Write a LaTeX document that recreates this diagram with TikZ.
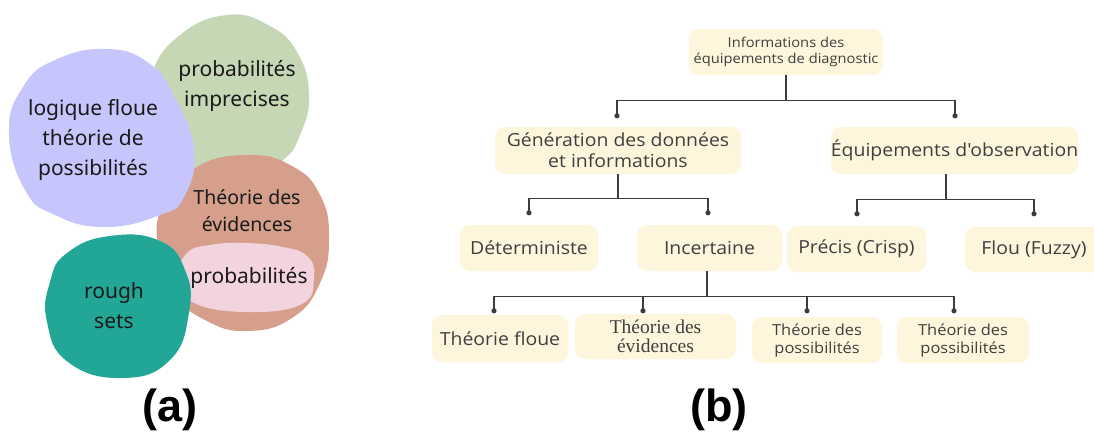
\documentclass[tikz,border=0pt]{standalone}
\usepackage{fontspec}
\setmainfont{Noto Sans}
\newfontfamily\bfont[FakeStretch=1.08]{Open Sans}
\newfontfamily\sfont{Liberation Serif}
\newfontfamily\labfont{Liberation Sans}
\usetikzlibrary{calc}
\definecolor{cpurple}{HTML}{C7C6FC}
\definecolor{cgreen}{HTML}{C6D7B5}
\definecolor{cred}{HTML}{D59F8B}
\definecolor{cpink}{HTML}{F3D3DE}
\definecolor{cteal}{HTML}{22A796}
\definecolor{cream}{HTML}{FDF6DC}
\definecolor{boxtext}{HTML}{3F3F3F}
\definecolor{btext}{HTML}{1A1A1A}
\definecolor{linec}{HTML}{3C3C3C}
\begin{document}
\begin{tikzpicture}[x=1pt,y=-1pt,
  box/.style={fill=cream, rounded corners=10pt, inner sep=0pt, align=center, text=boxtext,
    font=\bfont\fontsize{18}{21}\selectfont},
  smallbox/.style={box, font=\bfont\fontsize{15.2}{18}\selectfont},
  conn/.style={draw=linec, line width=1.4pt},
  blobtext/.style={align=center, text=btext, inner sep=0pt, font=\fontsize{21}{30}\selectfont},
  lab/.style={anchor=base, text=black, font=\labfont\bfseries\fontsize{45}{50}\selectfont}]
\clip (0,0) rectangle (1094,432);
\fill[white] (0,0) rectangle (1094,432);

% ---------- (a) blobs ----------
\fill[cgreen] plot[smooth cycle, tension=0.8] coordinates {(227,15) (268,25) (297,52) (309,95) (300,135) (283,160) (250,178) (210,175) (175,155) (155,120) (152,75) (180,35)};
\fill[cred] plot[smooth cycle, tension=0.8] coordinates {(247,155) (292,166) (320,195) (329,238) (320,283) (292,318) (247,331) (205,320) (172,292) (158,248) (163,205) (195,168)};
\fill[cpink] plot[smooth cycle, tension=0.75] coordinates {(187,253) (210,245) (245,243) (283,247) (307,256) (314,276) (302,304) (245,312) (192,302) (178,278)};
\fill[cpurple] plot[smooth cycle, tension=0.8] coordinates {(9,133) (23,87) (55,60) (108,49) (150,64) (174,96) (194,150) (184,197) (160,215) (105,227) (55,215) (25,190)};
\fill[cteal] plot[smooth cycle, tension=0.8] coordinates {(67,253) (110,236) (160,241) (185,270) (189,312) (170,360) (122,378) (68,362) (47,322) (50,282)};

\node[blobtext] (tgreen) at (237,86) {probabilités\\imprecises};
\node[blobtext] (tpurple) at (93,140) {logique floue\\théorie de\\possibilités};
\node[blobtext, font=\fontsize{19.5}{27}\selectfont] (tred) at (247,211) {Théorie des\\évidences};
\node[blobtext] (tpink) at (249,278) {probabilités};
\node[blobtext] (tteal) at (114,306) {rough\\sets};

\node[lab] (la) at (170,421) {(a)};
\node[lab] (lb) at (719,421) {(b)};

% ---------- (b) tree ----------
\node[box, font=\bfont\fontsize{13.6}{16}\selectfont, minimum width=194pt, minimum height=46pt] (top) at (786,52) {Informations des\\équipements de diagnostic};
\node[box, minimum width=246pt, minimum height=47pt] (gen) at (618,150.5) {Génération des données\\et informations};
\node[box, minimum width=245pt, minimum height=47pt] (eq) at (954.5,150.5) {Équipements d'observation};
\node[box, minimum width=138pt, minimum height=46pt] (det) at (529,248) {Déterministe};
\node[box, minimum width=145pt, minimum height=46pt] (inc) at (709.5,248) {Incertaine};
\node[box, minimum width=139pt, minimum height=46pt] (prec) at (856.5,249) {Précis (Crisp)};
\node[box, minimum width=138pt, minimum height=45pt] (flou) at (1034,249.5) {Flou (Fuzzy)};
\node[box, minimum width=136pt, minimum height=47pt] (tfloue) at (500,338.5) {Théorie floue};
\node[box, font=\sfont\fontsize{19.5}{19}\selectfont, minimum width=161pt, minimum height=45pt] (tevid) at (655.5,336.5) {Théorie des\\évidences};
\node[smallbox, minimum width=130pt, minimum height=46pt] (tp1) at (817,340) {Théorie des\\possibilités};
\node[smallbox, minimum width=132pt, minimum height=46pt] (tp2) at (963,340) {Théorie des\\possibilités};

% dot coordinates
\coordinate (dGen) at ([shift={(-1,-11)}]gen.north);
\coordinate (dEq) at ([shift={(0.5,-11)}]eq.north);
\coordinate (dDet) at ([shift={(0,-12)}]det.north);
\coordinate (dInc) at ([shift={(-1.5,-12)}]inc.north);
\coordinate (dPrec) at ([shift={(0.5,-12)}]prec.north);
\coordinate (dFlou) at ([shift={(0,-13)}]flou.north);
\coordinate (dTF) at ([shift={(-6,-4)}]tfloue.north);
\coordinate (dTE) at ([shift={(-12.5,-3)}]tevid.north);
\coordinate (dTP1) at ([shift={(-10,-6)}]tp1.north);
\coordinate (dTP2) at ([shift={(-9,-6)}]tp2.north);
% junctions
\coordinate (jTop) at ([shift={(0,25)}]top.south);
\coordinate (jGen) at ([shift={(0,24)}]gen.south);
\coordinate (jEq) at ([shift={(-8.5,25)}]eq.south);
\coordinate (jInc) at ([shift={(-2.5,25)}]inc.south);

\draw[conn] (top.south) -- (jTop);
\draw[conn] (dGen) |- (jTop) -| (dEq);
\draw[conn] (gen.south) -- (jGen);
\draw[conn] (dDet) |- (jGen) -| (dInc);
\draw[conn] (jEq |- eq.south) -- (jEq);
\draw[conn] (dPrec) |- (jEq) -| (dFlou);
\draw[conn] (jInc |- inc.south) -- (jInc);
\draw[conn] (dTF) |- (jInc) -| (dTP2);
\draw[conn] (dTE) -- (dTE |- jInc);
\draw[conn] (dTP1) -- (dTP1 |- jInc);
\foreach \d in {dGen,dEq,dDet,dInc,dPrec,dFlou,dTF,dTE,dTP1,dTP2}
  \fill[linec] (\d) circle[radius=2.6pt];
\end{tikzpicture}
\end{document}
